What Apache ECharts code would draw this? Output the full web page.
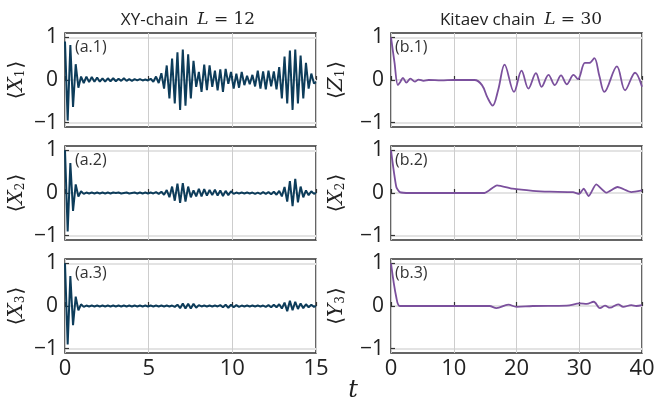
<!DOCTYPE html>
<html>
<head>
<meta charset="utf-8">
<script src="https://cdn.jsdelivr.net/npm/echarts@6/dist/echarts.min.js"></script>
<style>html,body{margin:0;padding:0;background:#fff}#chart{width:666px;height:403px}</style>
</head>
<body>
<div id="chart"></div>
<script>
// XY-chain, L = 12 : time grid shared by (a.1)-(a.3)
var tXY = [0,0.16,0.32,0.48,0.64,0.8,0.96,1.12,1.28,1.44,1.6,1.76,1.92,2.08,2.24,2.4,2.56,2.72,2.88,3.04,
	3.2,3.36,3.52,3.68,3.84,4,4.16,4.32,4.48,4.64,4.8,4.96,5.12,5.28,5.44,5.6,5.76,5.92,6.08,6.24,
	6.4,6.56,6.72,6.88,7.04,7.2,7.36,7.52,7.68,7.84,8,8.16,8.32,8.48,8.64,8.8,8.96,9.12,9.28,9.44,
	9.6,9.76,9.92,10.08,10.24,10.4,10.56,10.72,10.88,11.04,11.2,11.36,11.52,11.68,11.84,12,12.16,12.32,12.48,12.64,
	12.8,12.96,13.12,13.28,13.44,13.6,13.76,13.92,14.08,14.24,14.4,14.56,14.72,14.88,15];
var xy1 = [0.9,-0.95,0.82,-0.63,0.37,-0.18,0.08,-0.07,0.08,-0.05,0.07,-0.04,0.06,-0.04,0.04,-0.04,0.04,-0.03,0.04,-0.03,
	0.03,-0.02,0.04,-0.02,0.02,-0.02,0.02,-0.01,0.02,-0.01,0.01,-0.01,0.03,-0.04,0.08,-0.07,0.16,-0.2,0.34,-0.43,
	0.5,-0.55,0.65,-0.7,0.71,-0.6,0.6,-0.43,0.45,-0.16,0.19,-0.28,0.36,-0.24,0.34,-0.16,0.22,-0.24,0.25,-0.28,
	0.26,-0.09,0.19,-0.2,0.15,-0.18,0.19,-0.12,0.1,-0.1,0.12,-0.15,0.22,-0.2,0.2,-0.22,0.22,-0.15,0.2,-0.22,
	0.3,-0.43,0.55,-0.55,0.69,-0.7,0.71,-0.55,0.57,-0.43,0.4,-0.2,0.15,-0.08,-0.05];
var xy2 = [1,-0.9,0.7,-0.42,0.2,-0.08,0.04,-0.02,0.01,-0.01,0.01,-0.01,0.01,-0.01,0.01,-0.01,0.01,-0.01,0.01,0,
	0.01,-0.01,0,0.01,-0.01,0,0.01,-0.01,0.01,-0.01,0.01,-0.01,0.01,-0.01,0.02,-0.02,0.03,-0.04,0.07,-0.1,
	0.15,-0.18,0.22,-0.23,0.23,-0.2,0.15,-0.1,0.06,-0.08,0.1,-0.08,0.09,-0.06,0.07,-0.05,0.08,-0.06,0.06,-0.07,
	0.05,-0.05,0.04,-0.02,0.01,-0.01,0.01,-0.01,0.01,-0.01,0.01,-0.02,0.01,-0.02,0.02,-0.02,0.02,-0.03,0.03,-0.04,
	0.05,-0.08,0.14,-0.2,0.28,-0.31,0.33,-0.22,0.15,-0.1,0.06,-0.05,0.04,-0.02,0.01];
var xy3 = [1,-0.9,0.7,-0.45,0.22,-0.1,0.04,-0.02,0.01,-0.01,0.01,-0.01,0.01,-0.01,0.01,-0.01,0.01,-0.01,0.01,-0.01,
	0.01,-0.01,0.01,-0.01,0.01,-0.01,0.01,-0.01,0.01,-0.01,0.01,-0.01,0.01,-0.01,0.01,-0.01,0.01,-0.01,0.01,-0.01,
	0.01,-0.02,0.03,-0.05,0.06,-0.06,0.05,-0.06,0.05,-0.04,0.02,-0.01,0.01,-0.01,0.01,-0.01,0.01,-0.01,0.02,-0.03,
	0.03,-0.04,0.03,-0.03,0.02,-0.02,0.01,-0.01,0.01,-0.01,0.01,-0.01,0.01,-0.01,0.01,-0.02,0.02,-0.03,0.03,-0.03,
	0.04,-0.06,0.08,-0.12,0.12,-0.1,0.1,-0.07,0.06,-0.05,0.04,-0.03,0.03,-0.02,0.01];

// Kitaev chain, L = 30
var tK1 = [0,0.55,1.1,1.5,1.9,2.45,3.1,3.8,4.4,5.2,6,8,10,12,13.3,14.5,15.4,16.2,17.1,18.1,
	19.6,20.8,21.9,23.1,24,25.1,26.1,27.1,28,29.1,29.8,30.9,31.6,32.4,33.2,34,36,37.3,38.9,40];
var k1 = [1,0.42,-0.12,-0.04,0.05,-0.06,0.03,-0.04,0.01,-0.02,0,-0.01,0,0,0,-0.12,-0.42,-0.6,-0.22,0.36,
	-0.28,0.22,-0.2,0.16,-0.16,0.12,-0.12,0.11,-0.1,0.12,0.02,0.4,0.4,0.51,0.1,-0.28,0.32,-0.24,0.17,-0.16];
var tK2 = [0,0.85,1.4,3,14.9,16.9,19.4,22.6,25.3,29,30,30.7,31.5,32.7,34.3,36.1,38.3,40];
var k2 = [1,0.14,0.02,0,0,0.18,0.1,0.05,0.03,0.02,-0.02,0.1,-0.07,0.2,0.01,0.14,0.02,0.06];
var tK3 = [0,0.85,1.4,3,15.7,16.8,18.7,20,22.6,28,30.1,31.2,32.3,33.3,34.1,34.9,36.2,37,38.3,39.1,40];
var k3 = [1,0.2,0,0,0,-0.05,0.03,-0.02,0,0.01,0.06,0.05,0.1,-0.05,0.01,-0.04,0.04,-0.02,0.02,0,0.02];

var yTicks = [-1, 0, 1];
var xyTicks = [0, 5, 10, 15];
var kTicks = [0, 10, 20, 30, 40];

var pair = function(t, v){
	return t.map(function(x, i){ return [x, v[i]]; });
};

// panels: col 0 = XY chain, col 1 = Kitaev chain
var panels = [
	{col:0, row:0, t:tXY, v:xy1, tag:'(a.1)', op:'X', sub:'1'},
	{col:0, row:1, t:tXY, v:xy2, tag:'(a.2)', op:'X', sub:'2'},
	{col:0, row:2, t:tXY, v:xy3, tag:'(a.3)', op:'X', sub:'3'},
	{col:1, row:0, t:tK1, v:k1, tag:'(b.1)', op:'Z', sub:'1'},
	{col:1, row:1, t:tK2, v:k2, tag:'(b.2)', op:'X', sub:'2'},
	{col:1, row:2, t:tK3, v:k3, tag:'(b.3)', op:'Y', sub:'3'}
];

var colLeft = [65, 391];
var rowTop = [33, 146, 259];
var colColor = ['#0d3c5a', '#7b509d'];
var tagLeft = [75, 395];
var nameGap = [38, 44];

var grids = [], xAxes = [], yAxes = [], series = [], titles = [];
var minus = function(v){ return String(v).replace('-', '\u2212'); };

panels.forEach(function(p, i){
	grids.push({left: colLeft[p.col], top: rowTop[p.row], width: 251, height: 94,
		show: true, borderColor: '#333', borderWidth: 1.5, backgroundColor: 'transparent'});
	var ticks = p.col === 0 ? xyTicks : kTicks;
	xAxes.push({
		gridIndex: i, type: 'value', min: ticks[0], max: ticks[ticks.length - 1],
		interval: ticks[1] - ticks[0],
		axisLine: {show: false},
		axisTick: {show: true, inside: true, length: 4, lineStyle: {color: '#333', width: 1.2}},
		axisLabel: {show: p.row === 2, fontSize: 22, color: '#222', margin: 5, fontFamily: 'Open Sans'},
		splitLine: {show: true, lineStyle: {color: '#cdcdcd', width: 1}}
	});
	yAxes.push({
		gridIndex: i, type: 'value', min: -1.1, max: 1.1,
		axisLine: {show: false},
		axisTick: {show: true, inside: true, length: 4, customValues: yTicks, lineStyle: {color: '#333', width: 1.2}},
		axisLabel: {customValues: yTicks, formatter: minus, fontSize: 21, color: '#222', margin: 7, fontFamily: 'Open Sans'},
		splitLine: {show: true, lineStyle: {color: '#e3e3e3', width: 2}},
		name: '{b|\u27e8}{v|' + p.op + '}{s|' + p.sub + '}{b|\u27e9}',
		nameLocation: 'middle', nameRotate: 90, nameGap: nameGap[p.col],
		nameTextStyle: {
			rich: {
				b: {fontFamily: 'DejaVu Serif', fontSize: 20, color: '#222'},
				v: {fontFamily: 'DejaVu Serif', fontStyle: 'italic', fontSize: 20, color: '#222'},
				s: {fontFamily: 'DejaVu Serif', fontSize: 12, color: '#222', verticalAlign: 'bottom', padding: [8, 1, 0, 0]}
			}
		}
	});
	series.push({
		type: 'line', xAxisIndex: i, yAxisIndex: i, data: pair(p.t, p.v),
		showSymbol: false, smooth: p.col === 0 ? false : (p.row === 1 ? 0.2 : 0.35),
		lineStyle: {color: colColor[p.col], width: p.col === 0 ? 2 : 1.8},
		itemStyle: {color: colColor[p.col]}, z: 3
	});
	titles.push({text: p.tag, left: tagLeft[p.col], top: rowTop[p.row] + 6, padding: 0,
		textStyle: {fontSize: 16, fontWeight: 'normal', fontFamily: 'Open Sans', color: '#333'}});
});

var option = {
	animation: false,
	backgroundColor: '#fff',
	title: titles,
	grid: grids,
	xAxis: xAxes,
	yAxis: yAxes,
	series: series,
	graphic: [
		{type: 'text', x: 188, y: 20, style: {
			text: '{s|XY-chain  }{m|L}{r| = 12}', align: 'center', verticalAlign: 'middle',
			rich: {
				s: {fontFamily: 'Open Sans', fontSize: 17, fill: '#222'},
				m: {fontFamily: 'DejaVu Serif', fontStyle: 'italic', fontSize: 17, fill: '#222'},
				r: {fontFamily: 'DejaVu Serif', fontSize: 17, fill: '#222'}
			}}},
		{type: 'text', x: 521, y: 20, style: {
			text: '{s|Kitaev chain  }{m|L}{r| = 30}', align: 'center', verticalAlign: 'middle',
			rich: {
				s: {fontFamily: 'Open Sans', fontSize: 17, fill: '#222'},
				m: {fontFamily: 'DejaVu Serif', fontStyle: 'italic', fontSize: 17, fill: '#222'},
				r: {fontFamily: 'DejaVu Serif', fontSize: 17, fill: '#222'}
			}}},
		{type: 'text', x: 353, y: 391, style: {
			text: 't', align: 'center', verticalAlign: 'middle',
			font: 'italic 24px "DejaVu Serif"', fill: '#222'}}
	]
};

var chart = echarts.init(document.getElementById('chart'));
chart.setOption(option);
</script>
</body>
</html>
